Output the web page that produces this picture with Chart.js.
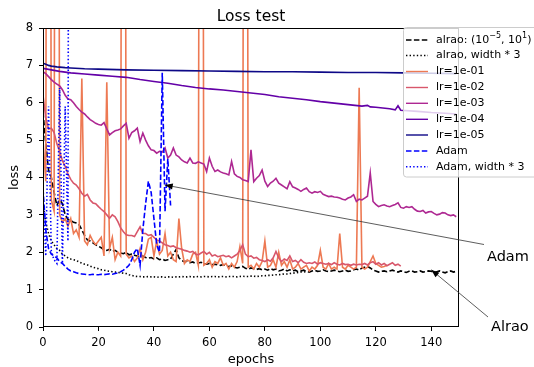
<!DOCTYPE html>
<html><head><meta charset="utf-8">
<script src="https://cdn.jsdelivr.net/npm/chart.js@4/dist/chart.umd.min.js"></script>
<style>html,body{margin:0;padding:0;background:#fff}canvas{display:block}</style>
</head><body>
<canvas id="c" width="534" height="367"></canvas>
<script>
const chartTitle = 'Loss test';
const xLabel = 'epochs';
const yLabel = 'loss';
const xTicks = [0,20,40,60,80,100,120,140];
const yTicks = [0,1,2,3,4,5,6,7,8];

const seriesNames = ['alrao: (10^-5, 10^1)','alrao, width * 3','lr=1e-01','lr=1e-02','lr=1e-03','lr=1e-04','lr=1e-05','Adam','Adam, width * 3'];

const alrao = [5.75,4.9,4.2,4.0,3.6,3.25,3.4,3.3,3.0,2.88,
 2.85,2.8,2.78,2.74,2.6,2.45,2.33,2.3,2.25,2.2,
 2.16,2.12,2.07,2.05,2.08,2.02,2.05,2.0,1.98,1.96,
 2.0,1.93,1.95,1.92,1.9,1.88,1.9,1.86,1.84,1.86,
 1.82,1.85,1.8,1.82,1.78,1.8,1.82,1.95,2.07,1.85,
 1.78,1.75,1.76,1.72,1.74,1.7,1.71,1.73,1.69,1.68,
 1.7,1.67,1.68,1.66,1.65,1.67,1.63,1.62,1.64,1.6,
 1.58,1.6,1.62,1.57,1.55,1.58,1.56,1.54,1.56,1.53,
 1.55,1.52,1.56,1.53,1.55,1.5,1.52,1.55,1.5,1.53,
 1.5,1.52,1.48,1.5,1.52,1.49,1.47,1.5,1.52,1.49,
 1.5,1.53,1.5,1.48,1.5,1.52,1.5,1.48,1.5,1.52,
 1.49,1.5,1.53,1.55,1.52,1.58,1.6,1.62,1.58,1.52,
 1.5,1.47,1.49,1.5,1.48,1.5,1.52,1.49,1.47,1.5,
 1.48,1.46,1.49,1.5,1.47,1.48,1.5,1.47,1.48,1.5,
 1.49,1.46,1.48,1.5,1.47,1.45,1.48,1.5,1.47,1.49];

const alraoWide = [3.3,2.8,2.5,2.3,2.2,2.1,2.05,1.95,1.9,1.85,
 1.82,1.8,1.78,1.74,1.71,1.68,1.66,1.63,1.6,1.58,
 1.56,1.53,1.52,1.5,1.49,1.48,1.47,1.46,1.45,1.44,
 1.43,1.4,1.38,1.36,1.35,1.35,1.34,1.34,1.35,1.34,
 1.34,1.33,1.34,1.34,1.33,1.34,1.34,1.33,1.34,1.34,
 1.35,1.34,1.34,1.35,1.34,1.34,1.35,1.34,1.35,1.35,
 1.34,1.35,1.35,1.34,1.35,1.35,1.34,1.35,1.35,1.35,
 1.34,1.35,1.36,1.35,1.35,1.36,1.36,1.35,1.36,1.37,
 1.37,1.38,1.38,1.39,1.4,1.4,1.41,1.42,1.42,1.43,
 1.44,1.45,1.46,1.47,1.47,1.48];

const lr1 = [5.0,3.9,40,3.4,3.1,40,3.0,2.8,2.9,2.7,
 2.9,2.5,2.6,2.4,6.65,2.3,2.2,2.45,2.3,2.2,
 2.3,2.4,1.9,6.55,2.1,2.4,1.8,2.0,1.9,40,
 1.95,1.85,1.9,1.75,1.85,2.1,1.8,2.0,2.35,2.4,
 1.9,2.3,1.95,2.05,2.5,1.9,2.0,1.8,1.75,2.9,
 2.1,1.7,1.8,1.75,1.95,2.0,1.65,40,1.65,1.7,
 1.8,1.6,1.75,1.7,1.85,1.65,1.7,1.55,1.7,1.6,
 1.75,2.15,1.7,40,1.6,1.65,1.55,1.7,1.6,1.75,
 2.3,1.6,1.65,1.8,1.6,2.0,1.65,1.75,1.6,1.8,
 1.55,1.6,1.7,1.55,1.6,1.65,1.5,1.6,1.55,1.65,
 2.05,1.6,1.55,1.7,1.55,1.6,1.55,2.5,1.6,1.55,
 1.65,1.6,1.55,1.6,6.4,1.6,1.55,1.6,1.75,1.9,
 1.7,1.65,1.6,1.62,1.65];

const lr2 = [6.2,5.6,5.3,5.32,5.2,4.9,4.7,4.45,4.3,4.1,
 3.95,3.85,3.8,3.7,3.58,3.5,3.55,3.4,3.32,3.3,
 3.22,3.15,3.09,3.0,2.91,3.0,2.95,2.82,2.65,2.55,
 2.47,2.45,2.45,2.42,2.55,2.68,2.5,2.5,2.45,2.47,
 2.4,2.33,2.3,2.25,2.2,2.18,2.15,2.17,2.12,2.1,
 2.08,2.05,2.03,2.0,2.02,1.95,1.93,1.98,2.02,1.95,
 2.0,1.9,1.93,1.88,1.9,1.92,1.88,1.9,1.85,1.9,
 1.95,2.05,2.2,1.95,1.88,1.9,1.84,1.86,1.8,1.78,
 1.75,1.8,1.76,1.85,2.02,1.85,1.75,1.82,1.78,1.9,
 1.75,1.78,1.72,1.8,1.73,1.7,1.72,1.7,1.74,1.68,
 1.72,1.7,1.68,1.7,1.67,1.72,1.68,1.66,1.7,1.67,
 1.68,1.65,1.68,1.66,1.68,1.67,1.7,1.66,1.72,1.75,
 1.68,1.72,1.66,1.7,1.64,1.68,1.72,1.65,1.68,1.63];

const lr3 = [6.83,6.78,6.7,6.62,6.55,6.5,6.45,6.35,6.2,6.1,
 6.08,6.0,5.9,5.82,5.75,5.7,5.62,5.55,5.5,5.45,
 5.42,5.4,5.47,5.3,5.14,5.2,5.25,5.27,5.3,5.38,
 5.45,5.05,5.2,5.25,5.32,4.96,5.19,5.0,4.85,4.74,
 4.72,4.65,4.7,4.68,4.79,4.52,4.6,4.79,4.6,4.55,
 4.47,4.42,4.39,4.52,4.39,4.38,4.42,4.39,4.36,4.16,
 4.52,4.3,4.16,4.2,4.15,4.12,4.1,4.07,4.43,4.1,
 4.03,4.0,3.94,3.92,3.89,4.74,3.89,3.98,4.05,4.2,
 3.9,3.76,3.85,3.9,3.98,3.85,3.8,3.75,3.7,3.89,
 3.75,3.72,3.68,3.63,3.68,3.72,3.62,3.58,3.62,3.6,
 3.63,3.55,3.52,3.49,3.5,3.48,3.47,3.45,3.42,3.4,
 3.45,3.48,3.54,3.36,3.42,3.4,3.45,3.5,4.12,3.36,
 3.28,3.22,3.25,3.27,3.24,3.22,3.25,3.28,3.32,3.2,
 3.18,3.22,3.2,3.22,3.15,3.1,3.09,3.12,3.05,3.08,
 3.09,3.04,3.0,3.02,3.06,3.05,3.0,2.98,3.0,2.95];

const lr4Epochs = [0,3,6,10,15,20,25,30,35,40,45,50,55,60,65,70,75,80,85,90,95,100,105,110,115,117,118,120,125,127,128,129,135,140,145,149];
const lr4 = [6.92,6.88,6.84,6.8,6.77,6.74,6.71,6.68,6.62,6.57,6.52,6.46,6.41,6.37,6.34,6.3,6.26,6.22,6.16,6.12,6.08,6.03,5.99,5.95,5.91,5.93,5.89,5.88,5.84,5.81,5.92,5.8,5.77,5.74,5.72,5.7];

const lr5Epochs = [0,1,2,3,5,8,10,15,20,30,40,50,60,70,80,90,100,110,120,130,140,149];
const lr5 = [7.06,7.03,7.0,6.98,6.96,6.94,6.93,6.91,6.9,6.88,6.87,6.86,6.85,6.84,6.83,6.83,6.82,6.81,6.81,6.8,6.79,6.78];

const adam = [3.7,2.6,2.1,1.95,1.9,1.85,1.75,1.7,1.62,1.55,
 1.5,1.48,1.45,1.43,1.42,1.41,1.4,1.4,1.41,1.4,
 1.4,1.41,1.4,1.41,1.42,1.41,1.43,1.45,1.48,1.52,
 1.58,1.65,1.8,2.0,2.1,1.65,2.6,3.3,3.9,3.6,
 2.9,2.2,2.0,6.8,3.1,4.5,3.25];

const adamWide = [3.5,1.9,5.9,2.0,1.8,1.7,6.4,1.7,5.9,2.3,50];

const annotLabels = ['Adam','Alrao'];
const annotEpochs = [43.9,140];
const annotValues = [3.8,1.53];

const colors = ['#000000','#000000','#ed7953','#d8576b','#ae2892','#6300a7','#0d0887','#0000ff','#0000ff'];
const dashes = [[5.5,2.4],[1.4,2.2],[],[],[],[],[],[5.5,2.4],[1.4,2.2]];

function seq(vals){ return vals.map((v,i)=>({x:i,y:v})); }
function pairs(xs,vals){ return vals.map((v,i)=>({x:xs[i],y:v})); }

const seriesData = [seq(alrao), seq(alraoWide), seq(lr1), seq(lr2), seq(lr3), pairs(lr4Epochs,lr4), pairs(lr5Epochs,lr5), seq(adam), seq(adamWide)];

const datasets = seriesData.map((d,i)=>({
  label: seriesNames[i], data: d, borderColor: colors[i], backgroundColor: colors[i],
  borderWidth: 1.6, borderDash: dashes[i], pointRadius: 0, tension: 0, fill: false, order: -i
}));

const FONT = '"DejaVu Sans", sans-serif';

const overlay = {
  id: 'overlay',
  afterDatasetsDraw(chart) {
    const ctx = chart.ctx, a = chart.chartArea;
    const xs = chart.scales.x, ys = chart.scales.y;
    ctx.save();
    ctx.strokeStyle = '#000'; ctx.lineWidth = 1; ctx.setLineDash([]);
    ctx.strokeRect(a.left+0.5, a.top+0.5, a.right-a.left-1, a.bottom-a.top-1);
    ctx.fillStyle = '#000';
    ctx.font = '15.5px ' + FONT; ctx.textAlign = 'center'; ctx.textBaseline = 'alphabetic';
    ctx.fillText(chartTitle, (a.left+a.right)/2, 21);
    ctx.font = '13px ' + FONT;
    ctx.fillText(xLabel, (a.left+a.right)/2, 363);
    ctx.save(); ctx.translate(18, (a.top+a.bottom)/2); ctx.rotate(-Math.PI/2);
    ctx.fillText(yLabel, 0, 0); ctx.restore();
    const textPos = [[487, 261], [491, 331]];
    const lineStart = [[484, 244.5], [488, 317]];
    for (let i=0;i<annotLabels.length;i++){
      const px = xs.getPixelForValue(annotEpochs[i]), py = ys.getPixelForValue(annotValues[i]);
      const [sx, sy] = lineStart[i];
      ctx.strokeStyle = '#333'; ctx.lineWidth = 0.8;
      ctx.beginPath(); ctx.moveTo(sx, sy); ctx.lineTo(px, py); ctx.stroke();
      const ang = Math.atan2(py-sy, px-sx), L = 8, W = 3;
      ctx.fillStyle = '#000';
      ctx.beginPath(); ctx.moveTo(px, py);
      ctx.lineTo(px - L*Math.cos(ang) + W*Math.sin(ang), py - L*Math.sin(ang) - W*Math.cos(ang));
      ctx.lineTo(px - L*Math.cos(ang) - W*Math.sin(ang), py - L*Math.sin(ang) + W*Math.cos(ang));
      ctx.closePath(); ctx.fill();
      ctx.font = '14.5px ' + FONT; ctx.textAlign = 'left'; ctx.textBaseline = 'alphabetic';
      ctx.fillText(annotLabels[i], textPos[i][0], textPos[i][1]);
    }
    const lx = 403.5, ly = 27.5, lw = 150, lh = 149.5, r = 3;
    ctx.beginPath();
    ctx.moveTo(lx+r, ly); ctx.lineTo(lx+lw, ly); ctx.lineTo(lx+lw, ly+lh); ctx.lineTo(lx+r, ly+lh);
    ctx.arcTo(lx, ly+lh, lx, ly+lh-r, r); ctx.lineTo(lx, ly+r); ctx.arcTo(lx, ly, lx+r, ly, r); ctx.closePath();
    ctx.fillStyle = 'rgba(255,255,255,0.8)'; ctx.fill();
    ctx.strokeStyle = '#cccccc'; ctx.lineWidth = 1; ctx.stroke();
    const rows = [40, 55.5, 71.5, 87.5, 103.3, 119.3, 135, 151, 166.8];
    for (let i=0;i<seriesNames.length;i++){
      const y = rows[i];
      ctx.strokeStyle = colors[i]; ctx.lineWidth = 1.4; ctx.setLineDash(dashes[i]);
      ctx.beginPath(); ctx.moveTo(406, y); ctx.lineTo(428, y); ctx.stroke();
      ctx.setLineDash([]);
      ctx.fillStyle = '#000'; ctx.textAlign = 'left'; ctx.textBaseline = 'middle';
      ctx.font = '11px ' + FONT;
      if (i === 0) {
        let x = 436;
        const parts = [['alrao: (10',0],['\u22125',1],[', 10',0],['1',1],[')',0]];
        for (const [t, sup] of parts) {
          ctx.font = (sup ? '8px ' : '11px ') + FONT;
          ctx.fillText(t, x, sup ? y-4 : y);
          x += ctx.measureText(t).width;
        }
      } else {
        ctx.fillText(seriesNames[i], 436, y);
      }
    }
    ctx.restore();
  }
};

new Chart(document.getElementById('c'), {
  type: 'line',
  data: { datasets },
  options: {
    responsive: false, animation: false, devicePixelRatio: 1,
    layout: { padding: { top: 28, right: 75, left: 0, bottom: 0 } },
    plugins: { legend: { display: false }, tooltip: { enabled: false }, title: { display: false } },
    scales: {
      x: {
        type: 'linear', min: 0, max: 150,
        afterFit(s){ s.height = 40; },
        afterBuildTicks(s){ s.ticks = xTicks.map(v=>({value:v})); },
        ticks: { color: '#000', font: { family: FONT, size: 11.5 }, padding: 5, maxRotation: 0, autoSkip: false },
        grid: { display: true, drawOnChartArea: false, drawTicks: true, tickLength: 4, color: '#000' },
        border: { display: false }
      },
      y: {
        type: 'linear', min: 0, max: 8,
        afterFit(s){ s.width = 43; },
        afterBuildTicks(s){ s.ticks = yTicks.map(v=>({value:v})); },
        ticks: { color: '#000', font: { family: FONT, size: 11.5 }, padding: 6, autoSkip: false },
        grid: { display: true, drawOnChartArea: false, drawTicks: true, tickLength: 4, color: '#000' },
        border: { display: false }
      }
    }
  },
  plugins: [overlay]
});
</script>
</body></html>
